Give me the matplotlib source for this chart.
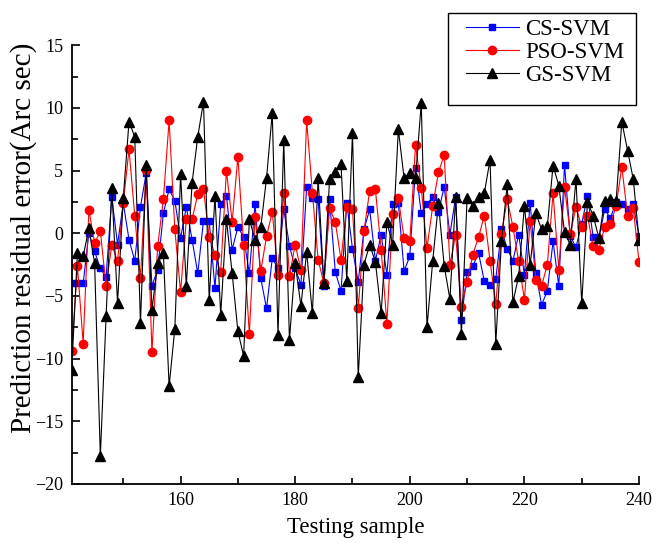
import numpy as np
import matplotlib
matplotlib.use("Agg")
import matplotlib.pyplot as plt
from matplotlib.ticker import MultipleLocator
from matplotlib.patches import Rectangle

plt.rcParams['font.family'] = ['Liberation Serif', 'DejaVu Serif']

start_sample = 141

cs_svm = [-4.0, -4.0, -4.0, 0.0, -1.45, -2.8, -3.5, 2.9, -0.9, 2.4, -0.5, -2.2, 2.1, 4.8, -4.2,
          -2.9, 1.6, 3.5, 2.6, -0.4, 2.1, -0.5, -3.2, 1.0, 1.0, -4.4, 2.3, 3.0, -1.3, 0.5,
          -0.3, -3.2, 2.35, -3.6, -6.0, -2.0, -2.8, 1.95, -1.0, -2.8, -4.1, 3.7, 2.8, 2.7,
          -4.2, 2.7, -3.1, -4.6, 2.4, -1.25, -3.9, 0.3, 1.9, -2.2, -0.1, -3.3, 2.3, 2.4, -3.0,
          -1.85, 5.2, 1.6, 2.3, 2.9, 1.7, 3.7, -0.1, 2.9, -6.9, -3.1, -2.6, -1.6, -3.8, -4.1,
          -3.65, 0.3, -1.25, -2.2, -0.1, -3.3, 2.45, -3.2, -5.7, -4.6, -0.65, -4.2, 5.45, -0.25,
          -1.1, 0.75, 3.0, -0.3, -0.4, 1.9, 1.2, 2.5, 2.3, 1.9, 2.3, -0.2]

pso_svm = [-9.4, -2.6, -8.8, 1.87, -0.8, 0.15, -4.2, -0.9, -2.25, 2.4, 6.7, 1.4, -3.6, 5.06, -9.5,
           -1.05, 2.7, 9.0, 0.3, -4.7, 1.1, 1.1, 3.1, 3.5, -0.3, -1.7, -3.1, 5.0, 0.9, 6.1,
           -0.9, -8.0, 1.3, -3.0, -0.25, 1.7, -3.3, 3.25, -3.4, -0.9, -2.9, 9.0, 3.25, -2.1,
           -4.0, 2.0, 0.9, -2.1, 2.1, 1.9, -6.0, 0.15, 3.4, 3.5, -1.3, -7.2, 1.5, 2.8, -0.4,
           -0.65, 7.05, 3.6, -1.2, 2.2, 4.85, 6.25, -2.5, -0.1, -5.9, -3.9, -1.7, -0.3, 1.4, -2.2,
           -5.65, -0.05, 2.7, 0.5, -2.25, -5.3, 0.95, -3.7, -4.2, -2.5, 3.2, -2.9, 3.7, -0.05,
           2.1, 0.5, 1.4, -1.05, -1.3, 0.5, 0.7, 2.2, 5.3, 1.4, 2.0, -2.3]

gs_svm = [-10.9, -1.6, -1.85, 0.41, -2.38, -17.8, -6.63, 3.6, -5.57, 2.8, 8.9, 7.7, -7.16, 5.46, -6.1,
          -2.4, -1.6, -12.2, -7.6, 4.7, -4.2, 4.0, 7.7, 10.5, -5.35, 3.0, -6.5, 1.1, -3.2, -7.8,
          -9.8, 1.1, -0.5, 0.5, 4.4, 9.6, -8.1, 7.4, -8.5, -2.4, -5.8, -1.5, -6.4, 4.4,
          -4.0, 4.3, 4.9, 5.5, -3.8, 8.0, -11.5, -2.5, -0.9, -2.3, -6.4, 0.9, -0.9, 8.3, 4.4,
          4.8, 4.4, 10.4, -7.5, -2.2, 2.4, -2.6, -5.25, 2.9, -8.0, 2.8, 2.2, 2.9, 3.2, 5.85,
          -8.8, -0.6, 3.9, -5.5, -3.4, 2.2, -2.5, 1.6, 0.3, 0.6, 5.4, 3.8, 0.07, -0.9,
          4.3, -5.6, 2.5, 1.4, -0.4, 2.6, 2.7, 2.6, 8.9, 6.6, 4.3, -0.5]

samples = start_sample + np.arange(len(cs_svm))

W, H = 662, 548
fig = plt.figure(figsize=(W / 100, H / 100), dpi=100)
ax = fig.add_axes([0.1083, 0.1168, 0.857, 0.8007])

ax.plot(samples, cs_svm, color='#0000ff', lw=0.8, marker='s', ms=5, mec='#0000ff', mfc='#0000ff', label='CS-SVM')
ax.plot(samples, pso_svm, color='#ff0000', lw=0.8, marker='o', ms=6, mec='#ff0000', mfc='#ff0000', label='PSO-SVM')
ax.plot(samples, gs_svm, color='black', lw=0.8, marker='^', ms=7, mec='black', mfc='black', label='GS-SVM')

ax.set_xlim(141, 240)
ax.set_ylim(-20, 15)
ax.xaxis.set_major_locator(MultipleLocator(20))
ax.xaxis.set_minor_locator(MultipleLocator(10))
ax.yaxis.set_major_locator(MultipleLocator(5))
ax.yaxis.set_minor_locator(MultipleLocator(2.5))
ax.tick_params(which='both', direction='in', labelsize=13, width=1.2)
ax.tick_params(which='major', length=6)
ax.tick_params(which='minor', length=4)
ax.tick_params(axis='x', which='both', pad=5.5)
ax.tick_params(axis='y', which='both', pad=6)
for s in ['top', 'right']:
    ax.spines[s].set_visible(False)
for s in ['left', 'bottom']:
    ax.spines[s].set_linewidth(1.3)

ax.set_xlabel('Testing sample', fontsize=16.5, labelpad=6)
ax.set_ylabel('Prediction residual error(Arc sec)', fontsize=21)
ax.yaxis.set_label_coords(-0.062, 0.56)

# legend box (frame drawn separately so its padding matches the reference)
fig.patches.append(Rectangle((448 / W, 1 - 105 / H), 188 / W, 92.3 / H, transform=fig.transFigure,
                             fill=True, facecolor='white', edgecolor='black', lw=1.0, zorder=5))
leg = fig.legend(loc='upper left', bbox_to_anchor=(466 / W, 1 - 18.5 / H), fontsize=16.5,
                 numpoints=1, frameon=False, handlelength=2.31, handletextpad=0.26,
                 labelspacing=0.1, borderpad=0.0, borderaxespad=0.0)
leg.set_zorder(6)

fig.savefig('out.png', dpi=100)
